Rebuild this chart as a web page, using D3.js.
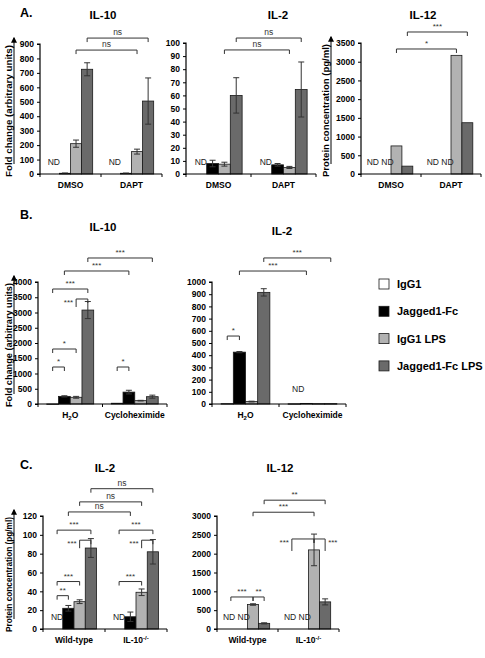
<!DOCTYPE html>
<html><head><meta charset="utf-8">
<script src="https://cdn.jsdelivr.net/npm/d3@7"></script>
<style>body{margin:0;background:#fff} svg{display:block} text{font-family:"Liberation Sans",Arial,sans-serif}</style>
</head><body><svg id="c" width="485" height="658"></svg>
<script>
// ---------- data ----------
const series = ["IgG1", "Jagged1-Fc", "IgG1 LPS", "Jagged1-Fc LPS"];
const seriesColors = ["#ffffff", "#000000", "#b2b2b2", "#6a6a6a"];

const catsA = ["DMSO", "DAPT"];
const catsB = ["H2O", "Cycloheximide"];
const catsC = ["Wild-type", "IL-10-/-"];

// values per series (null = ND)
const aIL10 = [[null, null], [5, 5], [210, 155], [725, 505]];
const aIL10Err = [[0, 0], [2, 1.5], [25, 17], [45, 160]];
const aIL2 = [[null, null], [8, 7], [7.5, 5], [60, 64.5]];
const aIL2Err = [[0, 0], [2.5, 1], [1.5, 0.8], [13.5, 21]];
const aIL12 = [[null, null], [null, null], [750, 3170], [210, 1370]];
const aIL12Err = [[0, 0], [0, 0], [0, 0], [0, 0]];

const bIL10 = [[1, 25], [250, 390], [220, 110], [3080, 240]];
const bIL10Err = [[0, 0], [20, 60], [30, 10], [280, 50]];
const bIL2 = [[3, 2], [425, 5], [20, 3], [915, 3]];
const bIL2Err = [[0, 0], [5, 0], [3, 0], [30, 0]];

const cIL2 = [[null, null], [22, 13], [29, 39], [86, 82]];
const cIL2Err = [[0, 0], [3, 5], [2, 3.5], [10, 13]];
const cIL12 = [[null, null], [null, null], [650, 2100], [150, 720]];
const cIL12Err = [[0, 0], [0, 0], [20, 420], [15, 80]];

// y ticks
const ticksAIL10 = [0, 100, 200, 300, 400, 500, 600, 700, 800, 900];
const ticksAIL2 = [0, 10, 20, 30, 40, 50, 60, 70, 80, 90, 100];
const ticksAIL12 = [0, 500, 1000, 1500, 2000, 2500, 3000, 3500];
const ticksBIL10 = [0, 500, 1000, 1500, 2000, 2500, 3000, 3500, 4000];
const ticksBIL2 = [0, 100, 200, 300, 400, 500, 600, 700, 800, 900, 1000];
const ticksCIL2 = [0, 20, 40, 60, 80, 100, 120];
const ticksCIL12 = [0, 500, 1000, 1500, 2000, 2500, 3000];

// significance brackets: [cat, series] -> [cat, series], level in data units
const brAIL10 = [
  {a: [0, 2], b: [1, 2], v: 858, t: "ns"},
  {a: [0, 3], b: [1, 3], v: 941, t: "ns"}];
const brAIL2 = [
  {a: [0, 2], b: [1, 2], v: 94.7, t: "ns"},
  {a: [0, 3], b: [1, 3], v: 103.8, t: "ns"}];
const brAIL12 = [
  {a: [0, 2], b: [1, 2], v: 3340, t: "*"},
  {a: [0, 3], b: [1, 3], v: 3794, t: "***"}];
const brBIL10 = [
  {a: [0, 0], b: [0, 1], v: 1213, t: "*"},
  {a: [0, 0], b: [0, 2], v: 1803, t: "*"},
  {a: [0, 2], b: [0, 3], v: 3443, t: "***", pos: "left", legL: 8},
  {a: [0, 0], b: [0, 3], v: 3770, t: "***"},
  {a: [0, 1], b: [1, 1], v: 4361, t: "***"},
  {a: [0, 3], b: [1, 3], v: 4787, t: "***"},
  {a: [1, 0], b: [1, 1], v: 1213, t: "*"}];
const brBIL2 = [
  {a: [0, 0], b: [0, 1], v: 557, t: "*"},
  {a: [0, 1], b: [1, 1], v: 1090, t: "***"},
  {a: [0, 3], b: [1, 3], v: 1197, t: "***"}];
const brCIL2 = [
  {a: [0, 0], b: [0, 1], v: 35.4, t: "**"},
  {a: [0, 0], b: [0, 2], v: 50.4, t: "***"},
  {a: [0, 2], b: [0, 3], v: 94.3, t: "***", pos: "left", legL: 8},
  {a: [0, 0], b: [0, 3], v: 105, t: "***"},
  {a: [1, 0], b: [1, 2], v: 50.4, t: "***"},
  {a: [1, 2], b: [1, 3], v: 94.3, t: "***", pos: "left", legL: 8},
  {a: [1, 0], b: [1, 3], v: 105, t: "***"},
  {a: [0, 1], b: [1, 1], v: 124.3, t: "ns"},
  {a: [0, 2], b: [1, 2], v: 135, t: "ns"},
  {a: [0, 3], b: [1, 3], v: 149, t: "ns"}];
const brCIL12 = [
  {a: [0, 0], b: [0, 2], v: 850, t: "***"},
  {a: [0, 2], b: [0, 3], v: 850, t: "**"},
  {a: [1, 0], b: [1, 2], v: 2390, t: "***", pos: "left", legL: 12},
  {a: [1, 2], b: [1, 3], v: 2390, t: "***", pos: "right", legR: 12},
  {a: [0, 2], b: [1, 2], v: 3100, t: "***"},
  {a: [0, 3], b: [1, 3], v: 3420, t: "**"}];

// ---------- layout ----------
const panels = [
  {title: "IL-10", cats: catsA, vals: aIL10, err: aIL10Err, ticks: ticksAIL10, br: brAIL10,
   x0: 40, x1: 162, yT: 44, yB: 174, tx: 103, ty: 19, ylab: "Fold change (arbitrary units)", ylx: 12, letter: "A.", lx: 20, ly: 17},
  {title: "IL-2", cats: catsA, vals: aIL2, err: aIL2Err, ticks: ticksAIL2, br: brAIL2,
   x0: 186, x1: 316, yT: 43, yB: 174, tx: 278, ty: 19},
  {title: "IL-12", cats: catsA, vals: aIL12, err: aIL12Err, ticks: ticksAIL12, br: brAIL12, ndPair: true,
   x0: 361, x1: 481, yT: 43, yB: 174, tx: 423, ty: 19, ylab: "Protein concentration (pg/ml)", ylx: 329},
  {title: "IL-10", cats: catsB, vals: bIL10, err: bIL10Err, ticks: ticksBIL10, br: brBIL10, noND: true,
   x0: 38, x1: 167, yT: 282, yB: 404, tx: 103, ty: 231, ylab: "Fold change (arbitrary units)", ylx: 12, letter: "B.", lx: 20, ly: 219},
  {title: "IL-2", cats: catsB, vals: bIL2, err: bIL2Err, ticks: ticksBIL2, br: brBIL2, noND: true, ndGroup: 1,
   x0: 212, x1: 346, yT: 282, yB: 404, tx: 282, ty: 235},
  {title: "IL-2", cats: catsC, vals: cIL2, err: cIL2Err, ticks: ticksCIL2, br: brCIL2,
   x0: 43, x1: 167, yT: 516, yB: 629, tx: 105, ty: 472, ylab: "Protein concentration (pg/ml)", ylx: 12, letter: "C.", lx: 20, ly: 469},
  {title: "IL-12", cats: catsC, vals: cIL12, err: cIL12Err, ticks: ticksCIL12, br: brCIL12, ndPair: true,
   x0: 217, x1: 339, yT: 516, yB: 629, tx: 280, ty: 472}
];

const svg = d3.select("#c");
const defs = svg.append("defs");
defs.append("marker").attr("id", "arr").attr("viewBox", "0 0 10 10").attr("refX", 8).attr("refY", 5)
  .attr("markerWidth", 6).attr("markerHeight", 6).attr("orient", "auto")
  .append("path").attr("d", "M0,0 L10,5 L0,10 Z").attr("fill", "#000");

function catLabel(sel, c) {
  if (c === "H2O") {
    sel.text("H"); sel.append("tspan").attr("font-size", 6).attr("dy", 2).text("2");
    sel.append("tspan").attr("dy", -2).text("O");
  } else if (c === "IL-10-/-") {
    sel.text("IL-10"); sel.append("tspan").attr("font-size", 6).attr("dy", -3).text("-/-");
  } else sel.text(c);
}

const fmt = d3.format("d");

panels.forEach(p => {
  const g = svg.append("g");
  const maxT = p.ticks[p.ticks.length - 1];
  const y = d3.scaleLinear().domain([0, maxT]).range([p.yB, p.yT]);
  const x = d3.scaleBand().domain(p.cats).range([p.x0, p.x1]).paddingInner(0.273).paddingOuter(0.1365);
  const xs = d3.scaleBand().domain(series).range([0, x.bandwidth()]);
  const cx = (ci, si) => x(p.cats[ci]) + xs(series[si]) + xs.bandwidth() / 2;

  // bars
  series.forEach((s, si) => {
    p.cats.forEach((c, ci) => {
      const v = p.vals[si][ci];
      const bx = x(c) + xs(s);
      if (v === null) {
        if (!p.noND && !p.ndPair) {
          g.append("text").attr("x", bx + xs.bandwidth() / 2).attr("y", p.yB - 9)
            .attr("text-anchor", "middle").attr("font-size", 8.5).attr("fill", "#222").text("ND");
        }
        return;
      }
      g.append("rect").attr("x", bx).attr("y", y(v)).attr("width", xs.bandwidth())
        .attr("height", Math.max(0.5, p.yB - y(v))).attr("fill", seriesColors[si])
        .attr("stroke", "#1a1a1a").attr("stroke-width", 0.8);
      const e = p.err[si][ci];
      if (e > 0) {
        const ex = bx + xs.bandwidth() / 2;
        g.append("line").attr("x1", ex).attr("x2", ex).attr("y1", y(v + e)).attr("y2", y(Math.max(0, v - e)))
          .attr("stroke", "#333").attr("stroke-width", 1);
        [v + e, Math.max(0, v - e)].forEach(t => g.append("line").attr("x1", ex - 3).attr("x2", ex + 3)
          .attr("y1", y(t)).attr("y2", y(t)).attr("stroke", "#333").attr("stroke-width", 1));
      }
    });
  });
  if (p.ndPair) {
    p.cats.forEach((c, ci) => {
      g.append("text").attr("x", x(c) + xs.bandwidth()).attr("y", p.yB - 9)
        .attr("text-anchor", "middle").attr("font-size", 8.5).attr("fill", "#222").text("ND ND");
    });
  }
  if (p.ndGroup !== undefined) {
    g.append("text").attr("x", cx(p.ndGroup, 0) + 4).attr("y", y(95)).attr("text-anchor", "middle")
      .attr("font-size", 8.5).attr("fill", "#222").text("ND");
  }

  // axes
  const ya = d3.axisLeft(y).tickValues(p.ticks).tickFormat(fmt).tickSize(3).tickPadding(3);
  const yg = g.append("g").attr("transform", `translate(${p.x0},0)`).call(ya);
  yg.select(".domain").attr("stroke", "#000").attr("stroke-width", 1.2).attr("d", `M-3,${p.yT}H0V${p.yB}H-3`);
  yg.selectAll("text").attr("font-size", 8.5).attr("font-weight", "bold").attr("fill", "#000");
  g.append("line").attr("x1", p.x0).attr("x2", p.x1).attr("y1", p.yB).attr("y2", p.yB)
    .attr("stroke", "#000").attr("stroke-width", 1.2);
  [p.x0, (p.x0 + p.x1) / 2, p.x1].forEach(t => g.append("line").attr("x1", t).attr("x2", t)
    .attr("y1", p.yB).attr("y2", p.yB + 3).attr("stroke", "#000").attr("stroke-width", 1));
  p.cats.forEach(c => {
    const t = g.append("text").attr("x", x(c) + x.bandwidth() / 2).attr("y", p.yB + 14)
      .attr("text-anchor", "middle").attr("font-size", 8.5).attr("font-weight", "bold");
    catLabel(t, c);
  });

  // title
  g.append("text").attr("x", p.tx).attr("y", p.ty).attr("text-anchor", "middle")
    .attr("font-size", 11.5).attr("font-weight", "bold").text(p.title);
  if (p.letter) g.append("text").attr("x", p.lx).attr("y", p.ly).attr("font-size", 12.5)
    .attr("font-weight", "bold").text(p.letter);
  if (p.ylab) {
    const ym = (p.yT + p.yB) / 2 + 2;
    g.append("text").attr("transform", `translate(${p.ylx},${ym}) rotate(-90)`).attr("text-anchor", "middle")
      .attr("font-size", 9.5).attr("font-weight", "bold")
      .attr("textLength", p.yB - p.yT + 2).attr("lengthAdjust", "spacingAndGlyphs").text(p.ylab);
    g.append("line").attr("x1", p.ylx + 2).attr("x2", p.ylx + 2).attr("y1", p.yB - 10).attr("y2", p.yT - 6)
      .attr("stroke", "#000").attr("stroke-width", 1).attr("marker-end", "url(#arr)");
  }

  // brackets
  p.br.forEach(b => {
    const xa = cx(b.a[0], b.a[1]), xb = cx(b.b[0], b.b[1]), yy = y(b.v);
    const lL = b.legL || 4, lR = b.legR || 4;
    g.append("path").attr("d", `M${xa},${yy + lL}V${yy}H${xb}V${yy + lR}`)
      .attr("fill", "none").attr("stroke", "#333").attr("stroke-width", 1);
    const tt = g.append("text").attr("font-size", b.t === "ns" ? 8.5 : 8).attr("fill", "#333").text(b.t);
    if (b.pos === "left") tt.attr("x", xa - 3).attr("y", yy + 6).attr("text-anchor", "end");
    else if (b.pos === "right") tt.attr("x", xb + 3).attr("y", yy + 6).attr("text-anchor", "start");
    else tt.attr("x", (xa + xb) / 2).attr("y", yy - 3).attr("text-anchor", "middle");
  });
});

// legend
const lg = svg.append("g");
series.forEach((s, i) => {
  const yy = 279 + i * 27.3;
  lg.append("rect").attr("x", 379).attr("y", yy).attr("width", 10).attr("height", 10)
    .attr("fill", seriesColors[i]).attr("stroke", "#1a1a1a").attr("stroke-width", 0.8);
  lg.append("text").attr("x", 397).attr("y", yy + 9).attr("font-size", 11).attr("font-weight", "bold").text(s);
});
</script></body></html>
